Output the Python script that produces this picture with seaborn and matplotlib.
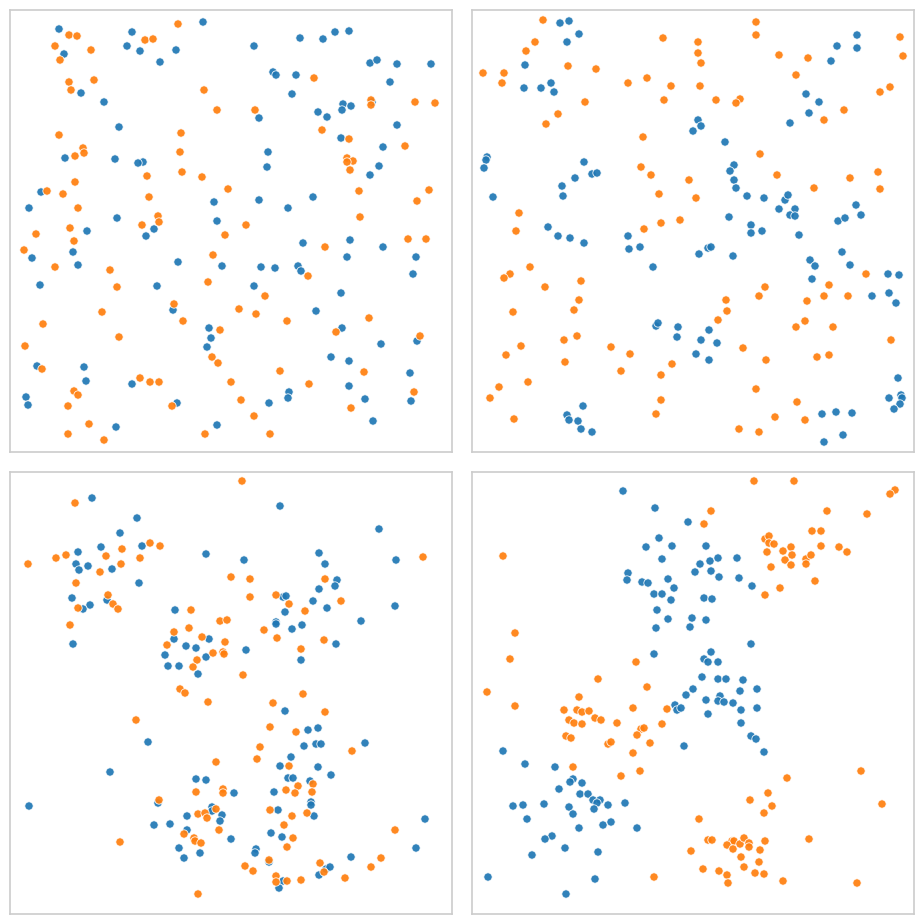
import pandas as pd
import matplotlib.pyplot as plt
import seaborn as sns

p1_blue = [(49,19),(54,44),(122,22),(117,36),(130,41),(150,52),(166,40),(193,12),(71,83),(94,92),
           (109,117),(244,36),(263,62),(266,65),(286,65),(290,28),(313,29),(325,22),(339,21),(360,53),
           (367,50),(387,54),(421,54),(380,72),(282,84),(333,94),(332,100),(341,96),(362,92),(308,102),
           (317,107),(249,108),(387,115),(331,128),(373,137),(258,142),(55,148),(105,149),(133,152),(128,153),
           (257,157),(369,156),(360,165),(31,182),(19,198),(107,208),(77,221),(136,226),(144,219),(204,192),
           (207,211),(249,190),(278,198),(303,187),(293,233),(340,230),(373,237),(337,247),(406,247),(403,264),
           (22,248),(63,242),(68,255),(168,252),(212,256),(251,257),(265,258),(288,256),(291,261),(30,275),
           (147,276),(244,276),(331,283),(163,300),(306,301),(332,318),(199,318),(201,328),(197,337),(371,334),
           (407,331),(27,356),(74,357),(76,371),(122,374),(321,347),(339,351),(400,363),(339,376),(279,382),
           (278,388),(16,387),(18,395),(167,393),(259,393),(355,389),(401,391),(106,417),(207,415),(363,411)]
p1_orange = [(59,25),(67,26),(45,36),(50,50),(81,40),(135,30),(143,29),(168,14),(59,72),(61,80),
             (84,70),(194,80),(207,100),(245,100),(304,68),(361,90),(361,95),(405,92),(425,93),(312,120),
             (339,129),(395,136),(49,125),(171,123),(170,142),(73,138),(74,143),(65,146),(337,148),(343,151),
             (337,152),(340,160),(172,162),(192,167),(137,166),(65,172),(37,181),(53,184),(139,187),(68,198),
             (218,179),(349,181),(419,180),(407,191),(148,206),(149,212),(132,215),(350,207),(236,215),(60,218),
             (26,224),(215,225),(64,231),(14,240),(315,237),(398,229),(416,229),(203,245),(45,257),(100,260),
             (298,266),(107,277),(198,272),(255,286),(164,294),(92,302),(33,314),(15,336),(109,327),(173,311),
             (229,299),(246,304),(277,311),(210,320),(202,347),(208,353),(326,322),(359,308),(410,326),(32,359),
             (270,361),(354,362),(130,368),(140,372),(149,372),(221,372),(299,374),(64,381),(68,385),(58,396),
             (162,396),(231,390),(404,382),(341,398),(244,406),(79,414),(58,424),(94,430),(195,424),(260,424)]

p2_blue = [(88,13),(97,11),(107,24),(95,32),(53,55),(52,78),(69,78),(79,73),(82,82),(226,110),
           (229,116),(221,121),(253,132),(318,113),(334,84),(347,92),(337,103),(359,51),(365,36),(385,25),
           (385,38),(15,147),(14,150),(12,158),(21,187),(112,152),(103,168),(120,164),(125,163),(90,176),
           (91,186),(76,217),(86,226),(98,228),(112,233),(156,226),(157,239),(168,237),(181,257),(227,244),
           (236,238),(239,237),(261,246),(262,155),(258,161),(262,170),(264,178),(275,186),(292,188),(257,207),
           (279,215),(279,223),(290,221),(307,199),(313,190),(316,185),(323,199),(318,205),(323,206),(327,225),
           (384,195),(389,205),(366,211),(373,208),(370,242),(378,255),(338,250),(343,256),(340,269),(416,264),
           (427,265),(417,283),(400,286),(424,293),(184,316),(186,313),(206,317),(205,327),(237,320),(229,330),
           (245,333),(224,344),(237,350),(111,396),(95,405),(97,410),(106,411),(109,419),(120,422),(350,404),
           (364,402),(380,403),(352,432),(371,425),(426,368),(417,388),(429,385),(430,388),(428,394),(422,399)]
p2_orange = [(71,10),(63,32),(54,41),(11,63),(32,63),(30,73),(96,56),(124,59),(113,92),(86,104),
             (74,114),(156,73),(175,68),(191,28),(199,76),(192,90),(171,127),(226,32),(226,43),(229,53),
             (228,76),(244,90),(268,89),(264,93),(284,12),(284,25),(307,45),(336,48),(324,65),(352,110),
             (372,100),(408,82),(418,77),(428,27),(431,46),(288,144),(169,157),(179,165),(187,184),(217,170),
             (224,188),(208,210),(189,213),(172,219),(305,165),(342,178),(378,168),(406,162),(408,179),(47,203),
             (44,221),(58,257),(38,264),(32,268),(73,277),(109,271),(107,290),(293,277),(287,286),(254,290),
             (357,275),(352,286),(335,291),(376,286),(394,264),(102,300),(41,302),(49,336),(34,345),(56,372),
             (27,377),(18,388),(42,409),(92,330),(105,326),(93,352),(139,337),(158,344),(149,361),(255,301),
             (246,310),(200,354),(189,365),(189,390),(184,404),(271,338),(294,350),(284,379),(267,419),(287,422),
             (303,407),(333,311),(324,317),(361,317),(345,347),(357,345),(325,392),(333,410),(419,330)]

p3_blue = [(82,26),(127,46),(110,61),(91,75),(68,80),(66,92),(69,98),(78,94),(102,97),(132,74),
           (129,111),(62,126),(97,128),(80,133),(73,137),(165,138),(196,82),(234,88),(270,34),(369,57),
           (386,88),(309,81),(315,92),(327,108),(325,114),(309,117),(303,129),(317,136),(385,134),(273,125),
           (276,124),(275,140),(351,149),(266,150),(63,172),(164,167),(176,174),(186,176),(199,167),(155,183),
           (196,185),(158,194),(169,194),(188,202),(236,178),(266,152),(282,157),(292,153),(291,188),(326,172),
           (275,239),(298,258),(308,256),(294,274),(306,272),(311,272),(355,271),(138,270),(281,285),(270,294),
           (308,295),(321,303),(278,306),(283,306),(300,309),(100,300),(19,334),(186,307),(196,308),(224,321),
           (264,320),(148,331),(301,330),(301,333),(304,344),(177,344),(202,335),(202,339),(212,343),(210,349),
           (144,353),(160,352),(177,358),(221,367),(268,338),(261,361),(272,365),(169,376),(174,386),(190,381),
           (246,377),(245,381),(259,390),(341,385),(415,347),(406,376),(309,403),(316,397),(320,395),(273,409),
           (269,416)]
p3_orange = [(232,9),(65,31),(18,92),(46,86),(56,83),(112,77),(96,84),(111,92),(90,100),(130,86),
             (140,71),(150,74),(66,111),(98,123),(103,132),(108,137),(68,136),(181,138),(221,105),(240,107),
             (240,125),(266,123),(279,132),(295,139),(315,107),(331,129),(413,85),(210,149),(217,148),(60,153),
             (164,160),(179,156),(157,173),(192,165),(215,170),(203,181),(213,180),(214,182),(187,188),(183,195),
             (233,203),(254,158),(267,166),(291,177),(314,168),(170,217),(175,221),(198,230),(126,248),(263,231),
             (293,222),(315,240),(260,255),(286,260),(250,275),(247,287),(206,290),(342,279),(279,294),(288,314),
             (303,312),(276,318),(285,321),(302,320),(213,317),(213,321),(186,320),(149,328),(188,342),(195,341),
             (197,346),(206,337),(209,358),(174,362),(184,366),(185,369),(191,371),(110,370),(260,338),(282,344),
             (297,341),(274,353),(283,366),(277,375),(259,388),(235,394),(243,399),(266,404),(266,410),(277,409),
             (291,408),(310,391),(314,400),(335,406),(361,395),(371,386),(385,358),(188,422)]

p4_blue = [(151,19),(183,36),(216,50),(187,66),(174,75),(200,74),(234,74),(190,87),(228,92),(238,89),
           (246,86),(265,86),(223,100),(239,99),(247,105),(267,106),(280,114),(156,101),(155,108),(170,110),
           (176,111),(196,107),(202,116),(182,122),(190,122),(199,128),(232,126),(240,127),(185,138),(196,147),
           (220,146),(234,148),(184,156),(218,155),(182,182),(279,172),(239,180),(232,187),(236,190),(246,190),
           (230,205),(246,207),(254,207),(271,208),(221,217),(214,223),(268,219),(285,217),(234,228),(248,224),
           (246,229),(252,230),(261,231),(203,233),(205,238),(209,236),(269,238),(285,236),(236,242),(269,251),
           (279,264),(284,267),(292,280),(212,274),(31,279),(53,292),(83,295),(101,307),(98,310),(110,311),
           (87,317),(108,322),(116,322),(121,328),(128,328),(125,331),(136,333),(122,337),(153,331),(97,335),
           (101,342),(41,334),(51,333),(72,332),(55,347),(107,356),(131,353),(139,350),(165,356),(80,364),
           (73,367),(93,376),(126,380),(60,383),(16,405),(123,407),(94,422)]
p4_orange = [(31,84),(282,9),(322,9),(239,39),(232,52),(423,18),(418,22),(355,39),(395,42),(340,59),
             (349,59),(293,67),(297,64),(297,71),(302,72),(295,80),(311,79),(319,75),(320,83),(313,88),
             (319,93),(334,87),(334,92),(339,83),(349,74),(367,75),(375,80),(299,95),(343,109),(308,116),
             (293,123),(43,161),(38,187),(15,220),(43,234),(164,190),(126,207),(175,215),(107,225),(92,238),
             (105,238),(110,240),(117,239),(97,248),(102,251),(110,252),(123,246),(129,248),(145,251),(161,236),
             (195,237),(190,252),(169,257),(172,256),(165,263),(94,264),(99,266),(136,272),(139,270),(178,271),
             (161,281),(101,295),(149,304),(168,299),(182,405),(315,306),(389,299),(410,332),(296,321),(278,328),
             (300,334),(292,341),(227,347),(236,368),(240,368),(260,369),(262,369),(255,373),(268,372),(272,366),
             (277,371),(277,375),(293,369),(261,377),(288,378),(219,379),(269,385),(287,390),(337,367),(231,397),
             (247,399),(255,403),(256,411),(272,395),(283,401),(292,402),(311,409),(385,411)]

panels = [(p1_blue, p1_orange), (p2_blue, p2_orange), (p3_blue, p3_orange), (p4_blue, p4_orange)]
colors = ["#1f77b4", "#ff7f0e"]

sns.set_style("white")
fig = plt.figure(figsize=(9.24, 9.24), dpi=100)

# panel boxes in pixels: left, top
boxes = [(10, 10), (472, 10), (10, 472), (472, 472)]
for (left, top), (blue, orange) in zip(boxes, panels):
    ax = fig.add_axes([left / 924, (924 - top - 442) / 924, 442 / 924, 442 / 924])
    df = pd.DataFrame(blue + orange, columns=["x", "y"])
    df["group"] = ["a"] * len(blue) + ["b"] * len(orange)
    sns.scatterplot(data=df, x="x", y="y", hue="group", palette=colors, alpha=0.92,
                    s=36, linewidth=0.6, edgecolor="white", legend=False, ax=ax)
    ax.set_xlim(0, 442)
    ax.set_ylim(442, 0)
    ax.set(xticks=[], yticks=[], xlabel="", ylabel="")
    for sp in ax.spines.values():
        sp.set_color("#cccccc")
        sp.set_linewidth(1.2)

fig.savefig("out.png", dpi=100)
